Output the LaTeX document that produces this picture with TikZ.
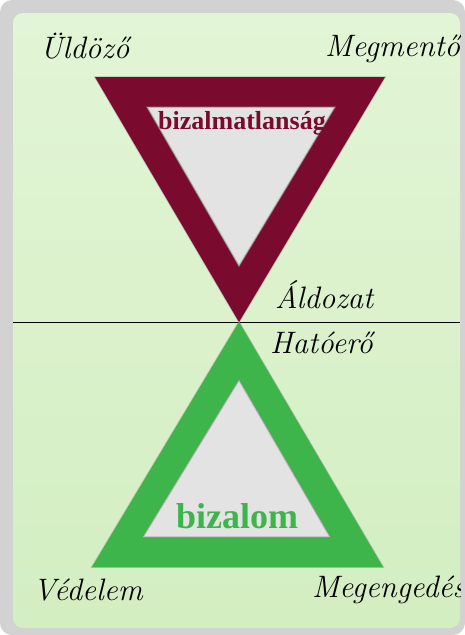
\documentclass[tikz,border=0pt]{standalone}
\usepackage{fontspec}
\setmainfont{Liberation Serif}
\newfontfamily\scriptlbl{Latin Modern Roman}
\definecolor{maroontri}{HTML}{7A0B2E}
\definecolor{greentri}{HTML}{3DB54A}
\definecolor{innergray}{HTML}{E3E3E3}
\definecolor{cardtop}{HTML}{E2F5D6}
\definecolor{cardbot}{HTML}{D3EEC1}
\definecolor{framegray}{HTML}{D2D2D2}
\tikzset{
  rolelbl/.style={anchor=west, inner sep=0pt, font=\scriptlbl\itshape\fontsize{31}{34}\selectfont},
  trilbl/.style={inner sep=0pt, font=\bfseries},
  tri edge/.style={draw=black!45, draw opacity=0.5, line width=1.5pt, line join=miter}
}
\begin{document}
\begin{tikzpicture}[x=1pt, y=-1pt]
    \useasboundingbox (0,0) rectangle (465,635);
    % card
    \fill[framegray, rounded corners=12pt] (0,0) rectangle (465,635);
    \shade[top color=cardtop, bottom color=cardbot, rounded corners=10pt] (13,13) rectangle (460,628);
    % corners of the two triangles
    \coordinate (apex) at (239,322);
    \coordinate (tl) at (95,77);
    \coordinate (tr) at (385,77);
    \coordinate (bl) at (92,567);
    \coordinate (br) at (383,567);
    \coordinate (itl) at (147,107);
    \coordinate (itr) at (335,107);
    \coordinate (iapex) at (239,266);
    \coordinate (ibl) at (143,537);
    \coordinate (ibr) at (330,537);
    \coordinate (itop) at (239,380);
    % dividing line
    \coordinate (lineL) at (13,322);
    \coordinate (lineR) at (460,322);
    \draw[line width=1pt] (lineL) -- (lineR);
    % upper triangle
    \draw[tri edge] (tl) -- (tr) -- (apex) -- cycle;
    \fill[maroontri, even odd rule] (tl) -- (tr) -- (apex) -- cycle (itl) -- (itr) -- (iapex) -- cycle;
    \fill[innergray] (itl) -- (itr) -- (iapex) -- cycle;
    \draw[tri edge] (itl) -- (itr) -- (iapex) -- cycle;
    % lower triangle
    \draw[tri edge] (apex) -- (br) -- (bl) -- cycle;
    \fill[greentri, even odd rule] (apex) -- (br) -- (bl) -- cycle (itop) -- (ibr) -- (ibl) -- cycle;
    \fill[innergray] (itop) -- (ibr) -- (ibl) -- cycle;
    \draw[tri edge] (itop) -- (ibr) -- (ibl) -- cycle;
    % texts
    \node[trilbl, maroontri, font=\bfseries\fontsize{26}{29}\selectfont] (distrust) at (242,123) {bizalmatlanság};
    \node[trilbl, greentri, font=\bfseries\fontsize{36}{39}\selectfont] (trust) at (237,516) {bizalom};
    \begin{scope}
        \clip (13,13) rectangle (460,628);
        \node[rolelbl] (uldozo) at (40,46) {Üldöző};
        \node[rolelbl] (megmento) at (325,49) {Megmentő};
        \node[rolelbl] (aldozat) at (275,295) {Áldozat};
        \node[rolelbl] (hatoero) at (270,343) {Hatóerő};
        \node[rolelbl] (vedelem) at (33,590) {Védelem};
        \node[rolelbl] (megengedes) at (312,590) {Megengedés};
    \end{scope}
\end{tikzpicture}
\end{document}
